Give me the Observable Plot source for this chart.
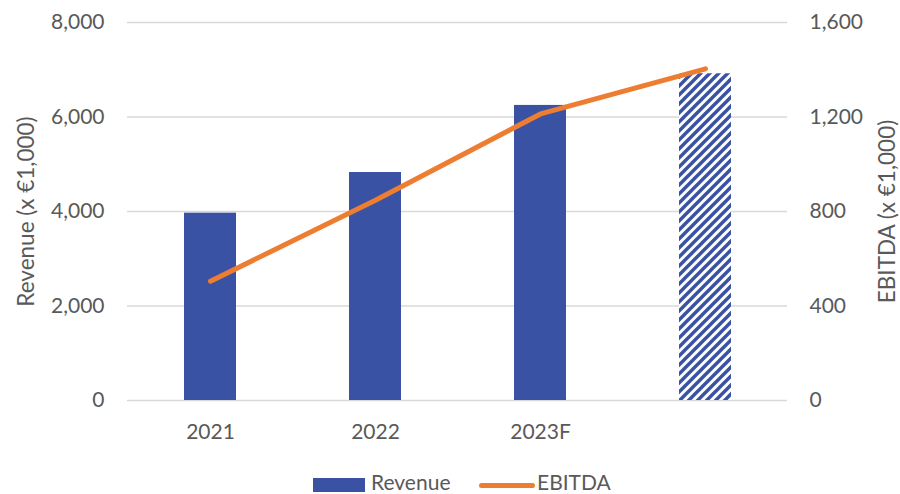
<!DOCTYPE html>
<html><head><meta charset="utf-8">
<script src="https://cdn.jsdelivr.net/npm/d3@7"></script>
<script src="https://cdn.jsdelivr.net/npm/@observablehq/plot@0.6"></script>
<style>
body{margin:0;background:#fff;font-family:Lato,"Open Sans",sans-serif;}
#chart svg{display:block;}
#legend{position:relative;width:900px;height:44px;color:#595959;font-size:21px;}
#legend .sw{position:absolute;}
#legend .lab{position:absolute;top:22px;line-height:20px;}
</style></head><body>
<div id="chart"></div>
<div id="legend">
  <div class="sw" style="left:313px;top:28px;width:52px;height:14px;background:#3A52A3"></div>
  <div class="lab" style="left:371px">Revenue</div>
  <div class="sw" style="left:479px;top:33px;width:56px;height:5px;border-radius:3px;background:#ED7D31"></div>
  <div class="lab" style="left:537px">EBITDA</div>
</div>
<script>
const categories = ["2021", "2022", "2023F", ""];
const revenue = [3965, 4825, 6245, 6915];
const ebitda = [505, 848, 1213, 1404];
const forecast = [false, false, false, true];
const revenueTicks = [0, 2000, 4000, 6000, 8000];
const ebitdaTicks = [0, 400, 800, 1200, 1600];
const revenueTitle = "Revenue (x €1,000)";
const ebitdaTitle = "EBITDA (x €1,000)";

const ratio = 8000 / 1600;
const data = categories.map((c, i) => ({cat: c, revenue: revenue[i], ebitda: ebitda[i], forecast: forecast[i]}));
const blue = "#3A52A3", orange = "#ED7D31", grey = "#595959";

const hatchDefs = () => {
  const defs = d3.create("svg:defs");
  const p = defs.append("pattern").attr("id", "hatch").attr("patternUnits", "userSpaceOnUse")
    .attr("width", 9).attr("height", 9);
  p.append("rect").attr("width", 9).attr("height", 9).attr("fill", "#fff");
  p.append("path").attr("d", "M-2,2 L2,-2 M0,9 L9,0 M7,11 L11,7")
    .attr("stroke", blue).attr("stroke-width", 3.4);
  return defs.node();
};

const chart = Plot.plot({
  width: 900,
  height: 450,
  marginLeft: 127,
  marginRight: 113,
  marginTop: 22,
  marginBottom: 50,
  style: {fontFamily: "Lato, 'Open Sans', sans-serif", fontSize: "21px", color: grey, background: "#fff"},
  x: {type: "band", domain: categories, paddingInner: 0.685, paddingOuter: 0.3425, align: 0.5},
  y: {domain: [0, 8000]},
  marks: [
    hatchDefs,
    Plot.ruleY(revenueTicks, {stroke: "#d9d9d9", strokeWidth: 1.5}),
    Plot.barY(data.filter(d => !d.forecast), {x: "cat", y: "revenue", fill: blue}),
    Plot.barY(data.filter(d => d.forecast), {x: "cat", y: "revenue", fill: "url(#hatch)"}),
    Plot.line(data, {x: "cat", y: d => d.ebitda * ratio, stroke: orange, strokeWidth: 5, strokeLinecap: "round", strokeLinejoin: "round"}),
    Plot.axisX({tickSize: 0, tickPadding: 24, label: null, fontSize: 21, color: grey}),
    Plot.axisY(revenueTicks, {anchor: "left", tickSize: 0, tickPadding: 23, tickFormat: d3.format(","), label: null, fontSize: 21, color: grey}),
    Plot.axisY(ebitdaTicks.map(v => v * ratio), {anchor: "right", tickSize: 0, tickPadding: 22, tickFormat: v => d3.format(",")(v / ratio), label: null, fontSize: 21, color: grey}),
    Plot.text([revenueTitle], {frameAnchor: "left", dx: -94, rotate: -90, textAnchor: "middle", lineAnchor: "bottom", fontSize: 22.5, fill: grey}),
    Plot.text([ebitdaTitle], {frameAnchor: "right", dx: 107, rotate: -90, textAnchor: "middle", lineAnchor: "bottom", fontSize: 22.5, fill: grey})
  ]
});
document.getElementById("chart").appendChild(chart);
</script>
</body></html>
